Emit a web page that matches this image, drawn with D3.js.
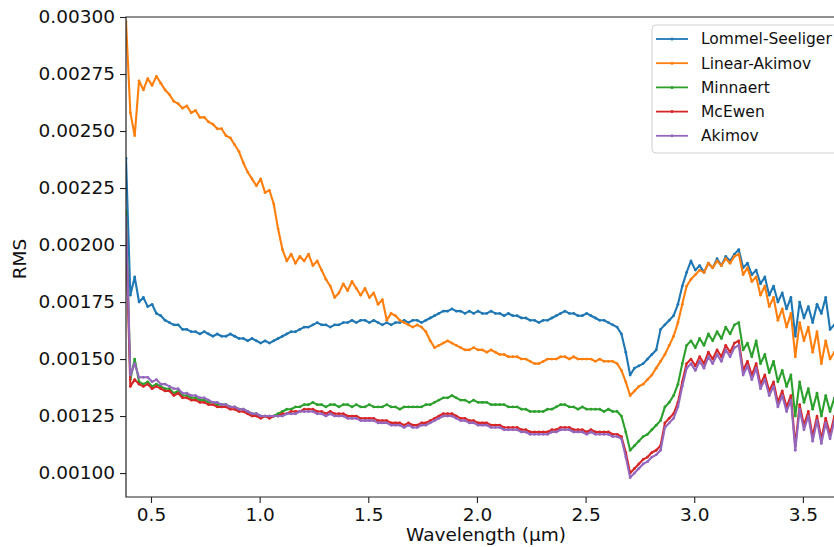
<!DOCTYPE html>
<html>
<head>
<meta charset="utf-8">
<script src="https://cdn.jsdelivr.net/npm/d3@7"></script>
<style>
  body { margin: 0; background: #fff; }
  text { font-family: "DejaVu Sans", sans-serif; fill: #111; }
</style>
</head>
<body>
<div id="chart"></div>
<script>
// wavelength grid (µm): first sample and spacing of the spectra
const wlStart = 0.385;
const wlStep = 0.02;

// RMS values, in units of 1e-5, one per wavelength sample
const lommelSeeliger = [
  238,178,186,175,177,173,174,170,169,167,166,165,165,163,163,162,162,161,162,161,
  160,161,160,160,161,160,159,159,158,159,158,157,158,157,158,159,160,161,162,162,
  163,164,164,165,166,165,165,164,165,165,166,166,167,166,167,167,166,167,166,165,
  166,165,166,166,167,166,167,167,166,167,168,169,170,171,171,172,171,171,170,171,
  170,171,170,170,171,170,170,169,170,169,169,168,168,167,167,166,167,167,168,169,
  170,171,170,170,169,169,170,169,168,167,167,166,165,164,161,153,143,146,147,148,
  150,152,154,163,165,167,169,174,182,188,193,189,191,188,192,190,194,191,195,193,
  196,198,190,192,187,189,183,186,178,182,175,179,172,177,160,175,168,173,166,174,
  170,177,163,165
];
const linearAkimov = [
  298,258,248,272,268,273,270,274,271,268,266,263,262,260,261,258,259,256,256,254,
  253,251,251,248,247,244,241,236,232,229,226,229,223,224,218,207,198,193,196,192,
  195,193,196,191,193,189,185,182,177,179,183,180,184,181,178,181,177,179,174,176,
  167,170,169,167,166,165,164,165,164,162,158,155,156,157,158,157,156,155,154,154,
  155,154,154,153,154,153,152,152,151,151,151,150,150,149,148,148,149,150,150,150,
  151,151,150,151,150,150,150,150,149,150,149,149,149,148,145,140,134,136,138,139,
  141,143,146,149,152,156,160,166,174,182,185,187,189,188,192,190,193,191,194,192,
  195,196,187,190,184,186,178,182,173,177,167,172,164,170,151,166,158,164,153,162,
  148,158,150,153
];
const minnaert = [
  215,141,150,140,139,140,138,139,138,137,137,135,136,134,134,133,133,132,132,131,
  131,130,130,130,129,129,128,128,127,126,126,125,125,125,125,126,127,128,128,129,
  129,130,130,131,130,130,129,130,130,129,130,130,129,130,129,129,130,129,129,129,
  130,129,129,128,129,129,129,129,129,130,130,131,132,133,133,134,133,132,132,131,
  132,131,131,131,130,130,130,130,129,129,129,128,128,127,127,127,127,128,128,129,
  130,130,129,129,128,129,128,128,128,128,127,128,127,127,125,118,110,112,114,116,
  117,119,121,123,129,131,134,139,148,156,158,155,159,156,161,158,162,159,164,161,
  165,166,154,157,151,158,148,152,144,149,140,145,138,143,125,140,131,137,128,135,
  125,134,127,133
];
const mcEwen = [
  205,138,141,139,138,139,137,138,137,136,136,134,135,133,133,132,132,131,131,130,
  130,129,129,129,128,128,127,127,126,125,125,124,125,124,125,125,126,126,127,127,
  127,128,128,128,127,127,126,127,126,126,126,125,125,125,124,124,124,124,123,123,
  123,122,122,122,121,122,121,121,122,122,123,124,125,126,126,126,125,124,124,123,
  123,122,122,122,121,121,121,120,120,120,120,119,119,118,118,118,118,118,119,119,
  120,120,120,119,119,119,118,119,118,118,118,118,117,117,116,109,100,102,104,106,
  107,109,110,112,122,124,126,131,140,148,150,147,151,148,153,150,154,151,156,153,
  157,158,145,149,143,148,139,143,136,140,131,136,129,134,112,130,121,127,116,125,
  115,124,117,125
];
const akimov = [
  212,143,148,142,142,142,140,141,139,139,138,137,137,135,135,134,134,133,133,132,
  131,131,130,130,129,129,128,128,127,126,126,125,125,125,125,125,125,126,126,126,
  127,127,127,127,126,126,125,126,125,125,125,124,124,124,123,123,123,123,122,122,
  122,121,121,121,120,121,120,120,121,121,122,123,124,125,125,125,124,123,123,122,
  122,121,121,121,120,120,120,119,119,119,119,118,118,117,117,117,117,117,118,118,
  119,119,119,118,118,118,117,118,117,117,117,117,116,116,115,107,98,100,102,104,
  105,107,108,110,120,122,124,129,138,146,148,145,149,146,151,148,152,149,154,151,
  155,156,143,147,141,146,137,141,134,138,129,134,127,132,110,128,119,125,114,123,
  113,122,115,123
];

const seriesNames = ["Lommel-Seeliger", "Linear-Akimov", "Minnaert", "McEwen", "Akimov"];
const seriesValues = [lommelSeeliger, linearAkimov, minnaert, mcEwen, akimov];
const seriesColors = ["#1f77b4", "#ff7f0e", "#2ca02c", "#d62728", "#9467bd"];
const yTicks = [0.001, 0.00125, 0.0015, 0.00175, 0.002, 0.00225, 0.0025, 0.00275, 0.003];
const xTicks = [0.5, 1.0, 1.5, 2.0, 2.5, 3.0, 3.5];

const width = 834;
const height = 547;
const plotLeft = 126, plotTop = 17, plotBottom = 497;

const svg = d3.select("#chart")
  .append("svg")
  .attr("width", width)
  .attr("height", height);

const x = d3.scaleLinear().domain([0.385, 3.68]).range([plotLeft, 842]);
const y = d3.scaleLinear().domain([0.000895, 0.003]).range([plotBottom, plotTop]);

svg.append("clipPath").attr("id", "plot")
  .append("rect")
  .attr("x", plotLeft).attr("y", plotTop)
  .attr("width", width - plotLeft).attr("height", plotBottom - plotTop);

// build the series (values stored in 1e-5 units)
const series = seriesNames.map((name, k) => ({
  name: name,
  color: seriesColors[k],
  points: seriesValues[k].map((v, i) => ({ wl: wlStart + i * wlStep, rms: v / 1e5 }))
}));

const line = d3.line()
  .x(d => x(d.wl))
  .y(d => y(d.rms));

const plot = svg.append("g").attr("clip-path", "url(#plot)");

const lines = plot.selectAll("g.series")
  .data(series)
  .join("g")
  .attr("class", "series");

lines.append("path")
  .attr("d", d => line(d.points))
  .attr("fill", "none")
  .attr("stroke", d => d.color)
  .attr("stroke-width", 2.1)
  .attr("stroke-linejoin", "round");

lines.selectAll("circle")
  .data(d => d.points.map(p => ({ ...p, color: d.color })))
  .join("circle")
  .attr("cx", d => x(d.wl))
  .attr("cy", d => y(d.rms))
  .attr("r", 1.4)
  .attr("fill", d => d.color);

// axes
const yAxis = svg.append("g")
  .attr("transform", `translate(${plotLeft},0)`)
  .call(d3.axisLeft(y).tickValues(yTicks).tickFormat(d3.format(".5f")).tickSize(6).tickPadding(5));

const xAxis = svg.append("g")
  .attr("transform", `translate(0,${plotBottom})`)
  .call(d3.axisBottom(x).tickValues(xTicks).tickFormat(d3.format(".1f")).tickSize(6).tickPadding(5));

[yAxis, xAxis].forEach(a => {
  a.select(".domain").remove();
  a.selectAll(".tick line").attr("stroke", "#222").attr("stroke-width", 1.1);
  a.selectAll(".tick text").style("font-size", "18.5px").attr("fill", "#111");
});

// frame (left, bottom, top)
svg.append("path")
  .attr("d", `M${width},${plotTop}H${plotLeft}V${plotBottom}H${width}`)
  .attr("fill", "none")
  .attr("stroke", "#222")
  .attr("stroke-width", 1.2);

svg.append("text")
  .attr("transform", `translate(26,259) rotate(-90)`)
  .attr("text-anchor", "middle")
  .style("font-size", "18.5px")
  .text("RMS");

svg.append("text")
  .attr("x", 486)
  .attr("y", 541)
  .attr("text-anchor", "middle")
  .style("font-size", "18.5px")
  .text("Wavelength (µm)");

// legend
const legend = svg.append("g").attr("transform", "translate(652,25)");

legend.append("rect")
  .attr("width", 200)
  .attr("height", 128)
  .attr("rx", 4)
  .attr("fill", "#fff")
  .attr("fill-opacity", 0.85)
  .attr("stroke", "#d0d0d0");

const legendItems = legend.selectAll(".legend-item")
  .data(series)
  .join("g")
  .attr("class", "legend-item")
  .attr("transform", (d, i) => `translate(0,${14 + i * 24.2})`);

legendItems.append("line")
  .attr("x1", 4).attr("x2", 36)
  .attr("stroke", d => d.color)
  .attr("stroke-width", 1.8);

legendItems.append("circle")
  .attr("cx", 20)
  .attr("r", 1.5)
  .attr("fill", d => d.color);

legendItems.append("text")
  .attr("x", 49)
  .attr("dy", "0.35em")
  .style("font-size", "15.5px")
  .text(d => d.name);
</script>
</body>
</html>
